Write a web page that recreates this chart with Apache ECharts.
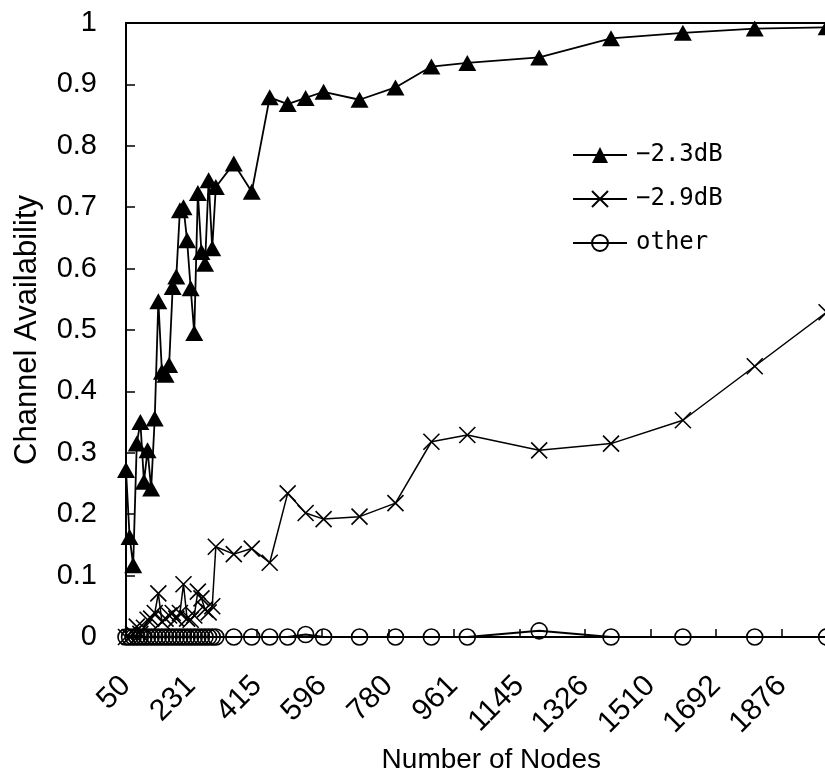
<!DOCTYPE html>
<html>
<head>
<meta charset="utf-8">
<script src="https://cdn.jsdelivr.net/npm/echarts@6/dist/echarts.min.js"></script>
<style>
  html, body { margin: 0; padding: 0; background: #fff; }
  #container { width: 825px; height: 780px; }
</style>
</head>
<body>
<div id="container"></div>
<script>
// node counts (x) shared by all three series
const nodes = [50, 60, 70, 80, 90, 100, 110, 120, 130, 140, 150, 160, 170, 180, 190,
  200, 210, 220, 230, 240, 250, 260, 270, 280, 290, 300,
  350, 400, 450, 500, 550, 600, 700, 800, 900, 1000, 1200, 1400, 1600, 1800, 2000];

const db23 = [0.272, 0.163, 0.117, 0.315, 0.350, 0.253, 0.304, 0.242, 0.356, 0.547,
  0.432, 0.427, 0.443, 0.570, 0.587, 0.695, 0.700, 0.646, 0.568, 0.495,
  0.723, 0.627, 0.608, 0.744, 0.633, 0.733,
  0.771, 0.725, 0.879, 0.868, 0.878, 0.888, 0.875, 0.895, 0.929, 0.935,
  0.944, 0.975, 0.984, 0.991, 0.993];

const db29 = [0, 0, 0.005, 0.017, 0.005, 0.015, 0.028, 0.03, 0.039, 0.071,
  0.025, 0.03, 0.035, 0.039, 0.03, 0.039, 0.086, 0.03, 0.028, 0.035,
  0.074, 0.063, 0.045, 0.04, 0.05, 0.147,
  0.135, 0.144, 0.121, 0.234, 0.202, 0.192, 0.196, 0.218, 0.318, 0.329,
  0.304, 0.315, 0.353, 0.441, 0.529];

const other = [0, 0, 0, 0, 0, 0, 0, 0, 0, 0, 0, 0, 0, 0, 0, 0, 0, 0, 0, 0, 0, 0, 0, 0, 0, 0,
  0, 0, 0, 0, 0.004, 0, 0, 0, 0, 0, 0.01, 0, 0, 0, 0];

const xTicks = [50, 231, 415, 596, 780, 961, 1145, 1326, 1510, 1692, 1876];
const seriesNames = ['\u22122.3dB', '\u22122.9dB', 'other'];

const pairs = (ys) => nodes.map((x, i) => [x, ys[i]]);

var chart = echarts.init(document.getElementById('container'));

option = {
  animation: false,
  backgroundColor: '#fff',
  grid: {
    left: 126,
    top: 23,
    width: 700.6,
    height: 614,
    outerBoundsMode: 'none',
    containLabel: false,
    show: true,
    borderColor: '#000',
    borderWidth: 2,
  },
  legend: {
    orient: 'vertical',
    left: 567,
    top: 138,
    itemWidth: 54,
    itemHeight: 20,
    itemGap: 20,
    textStyle: { color: '#000', fontFamily: 'DejaVu Sans Mono', fontSize: 24, padding: [0, 0, 0, 4] },
    data: seriesNames,
  },
  xAxis: {
    type: 'value',
    min: 50,
    max: 2000,
    name: 'Number of Nodes',
    nameLocation: 'middle',
    nameGap: 103,
    nameTextStyle: { color: '#000', fontFamily: 'Liberation Sans', fontSize: 28, padding: [0, 0, 0, 30] },
    splitLine: { show: false },
    axisLine: { lineStyle: { color: '#000', width: 2 } },
    axisTick: { inside: true, length: 8, customValues: xTicks, lineStyle: { color: '#000', width: 1.5 } },
    axisLabel: {
      rotate: 45, margin: 44, customValues: xTicks, formatter: (v) => String(v),
      color: '#000', fontFamily: 'Liberation Sans', fontSize: 30,
    },
  },
  yAxis: {
    type: 'value',
    min: 0,
    max: 1,
    interval: 0.1,
    name: 'Channel Availability',
    nameLocation: 'middle',
    nameGap: 83,
    nameTextStyle: { color: '#000', fontFamily: 'Liberation Sans', fontSize: 31 },
    splitLine: { show: false },
    axisLine: { show: true, lineStyle: { color: '#000', width: 2 } },
    axisTick: { show: true, inside: true, length: 9, lineStyle: { color: '#000', width: 1.5 } },
    axisLabel: {
      margin: 29, formatter: (v) => String(+v.toFixed(1)),
      color: '#000', fontFamily: 'Liberation Sans', fontSize: 29,
    },
  },
  series: [
    {
      name: seriesNames[0],
      type: 'line',
      data: pairs(db23),
      symbol: 'triangle',
      symbolSize: [18, 16],
      lineStyle: { color: '#000', width: 1.8 },
      itemStyle: { color: '#000' },
      z: 4,
    },
    {
      name: seriesNames[1],
      type: 'line',
      data: pairs(db29),
      symbol: 'path://M0,0L10,10M10,0L0,10',
      symbolSize: 16,
      lineStyle: { color: '#000', width: 1.5 },
      itemStyle: { color: 'none', borderColor: '#000', borderWidth: 1.6 },
      z: 3,
    },
    {
      name: seriesNames[2],
      type: 'line',
      data: pairs(other),
      symbol: 'circle',
      symbolSize: 16,
      lineStyle: { color: '#000', width: 2 },
      itemStyle: { color: 'none', borderColor: '#000', borderWidth: 1.6 },
      z: 2,
    },
  ],
};

if (option && typeof option === 'object') {
  chart.setOption(option);
}
</script>
</body>
</html>
